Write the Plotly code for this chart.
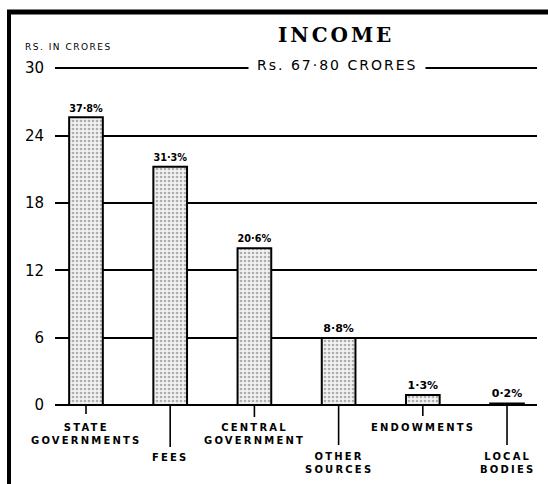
import plotly.graph_objects as go

# ---- data ----
categories = ["STATE GOVERNMENTS", "FEES", "CENTRAL GOVERNMENT",
              "OTHER SOURCES", "ENDOWMENTS", "LOCAL BODIES"]
label_lines = ["STATE<br>GOVERNMENTS", "FEES", "CENTRAL<br>GOVERNMENT",
               "OTHER<br>SOURCES", "ENDOWMENTS", "LOCAL<br>BODIES"]
values_crores = [25.63, 21.22, 13.97, 5.97, 0.88, 0.14]
percent_share = [37.8, 31.3, 20.6, 8.8, 1.3, 0.2]
y_ticks = [0, 6, 12, 18, 24, 30]
total_text = "Rs. 67·80 CRORES"

# ---- styling ----
label_drop = [15, 45, 15, 44, 15, 44]      # px below axis for category labels
tick_len = [9, 42, 12, 40, 11, 40]          # px length of leader ticks
FONT = "DejaVu Sans"

def spaced(t, sp):
    return "<br>".join(f'<span style="letter-spacing:{sp}px">{p}</span>' for p in t.split("<br>"))

pct_text = [f"{p:.1f}".replace(".", "·") + "%" for p in percent_share]

fig = go.Figure()
fig.add_trace(go.Bar(
    x=categories, y=values_crores,
    width=0.40,
    marker=dict(color="#e6e6e6",
                line=dict(color="black", width=2),
                pattern=dict(shape=".", fgcolor="#6a6a6a", bgcolor="#f2f2f2",
                             size=4, solidity=0.35)),
    text=pct_text, textposition="outside",
    textfont=dict(family=FONT, size=11, color="black", weight="bold"),
    cliponaxis=False,
    hoverinfo="skip",
))

W, H = 548, 484
L, R, T, B = 55, 11, 67, 79
pw = W - L - R
ph = H - T - B
Y_TOP = 30.1

def px_to_paper_x(px):
    return (px - L) / pw

def px_to_paper_y(py):
    return (H - B - py) / ph

annotations = []
for cat, lab, d in zip(categories, label_lines, label_drop):
    annotations.append(dict(x=cat, y=0, xref="x", yref="y", yanchor="top",
                            xanchor="center", yshift=-d, showarrow=False,
                            text=spaced(lab, 2.2),
                            font=dict(family=FONT, size=10, color="black",
                                      weight="bold")))

annotations.append(dict(x=px_to_paper_x(337), y=30, xref="paper", yref="y",
                        yanchor="middle", xanchor="center", yshift=3,
                        showarrow=False, text=spaced(total_text, 2),
                        bgcolor="white", borderpad=8,
                        font=dict(family=FONT, size=14, color="black")))
annotations.append(dict(x=px_to_paper_x(336), y=px_to_paper_y(35),
                        xref="paper", yref="paper", xanchor="center",
                        yanchor="middle", showarrow=False,
                        text="<b>" + spaced("INCOME", 3) + "</b>",
                        font=dict(family="DejaVu Serif", size=20, color="black")))
annotations.append(dict(x=px_to_paper_x(23), y=px_to_paper_y(47),
                        xref="paper", yref="paper", xanchor="left",
                        yanchor="middle", showarrow=False,
                        text=spaced("RS. IN CRORES", 1.5),
                        font=dict(family=FONT, size=9, color="black")))

shapes = []
for cat, tl in zip(categories, tick_len):
    shapes.append(dict(type="line", xref="x", yref="paper",
                       x0=cat, x1=cat, y0=0, y1=-tl / ph,
                       line=dict(color="black", width=1.6)))
# frame (left and top border of the scanned page)
shapes.append(dict(type="line", xref="paper", yref="paper",
                   x0=px_to_paper_x(9), x1=px_to_paper_x(9),
                   y0=px_to_paper_y(10), y1=px_to_paper_y(486),
                   line=dict(color="black", width=4)))
shapes.append(dict(type="line", xref="paper", yref="paper",
                   x0=px_to_paper_x(7), x1=px_to_paper_x(550),
                   y0=px_to_paper_y(12), y1=px_to_paper_y(12),
                   line=dict(color="black", width=5)))

fig.update_layout(
    width=W, height=H,
    margin=dict(l=L, r=R, t=T, b=B, pad=0),
    paper_bgcolor="white", plot_bgcolor="white",
    showlegend=False,
    annotations=annotations, shapes=shapes,
    xaxis=dict(type="category", range=[-0.368, 5.356], showticklabels=False,
               showgrid=False, zeroline=False, showline=False, ticks=""),
    yaxis=dict(range=[0, Y_TOP], tickvals=y_ticks, ticktext=[str(v) for v in y_ticks],
               showgrid=True, gridcolor="black", gridwidth=1.6,
               zeroline=True, zerolinecolor="black", zerolinewidth=2,
               showline=False, ticks="", ticklabelstandoff=10,
               tickfont=dict(family=FONT, size=15, color="black")),
)

fig.write_html("out.html", config={"displayModeBar": False},
               post_script="document.body.style.margin='0';document.body.style.overflow='hidden';")
